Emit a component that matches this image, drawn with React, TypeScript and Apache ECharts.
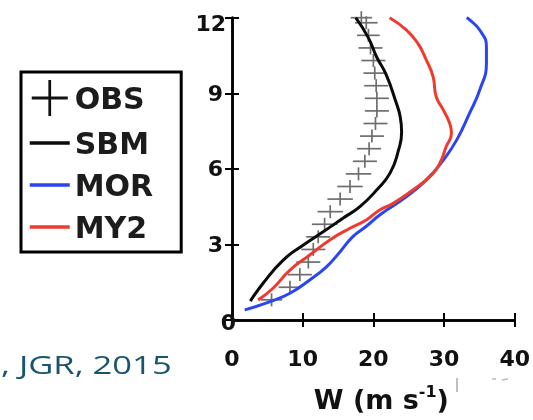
import React, { useEffect, useRef } from 'react';
import * as echarts from 'echarts';

// OBS: height (km), mean W (m/s), half-width of horizontal error bar (m/s)
const obsHeight = [0.8, 1.3, 1.8, 2.3, 2.8, 3.3, 3.8, 4.3, 4.8, 5.3, 5.8, 6.3, 6.8, 7.3, 7.8, 8.3, 8.8, 9.3, 9.8, 10.3, 10.8, 11.3, 11.8, 12.0];
const obsW = [5.6, 8.2, 9.6, 10.8, 11.5, 12.2, 13.1, 13.9, 15.3, 16.7, 17.9, 18.8, 19.4, 19.8, 20.3, 20.5, 20.5, 20.4, 20.2, 20.0, 19.6, 19.3, 19.0, 18.3];
const obsErr = [1.5, 1.6, 1.7, 1.7, 1.7, 1.7, 1.8, 1.8, 1.8, 1.8, 1.8, 1.7, 1.7, 1.7, 1.7, 1.7, 1.7, 1.7, 1.6, 1.7, 1.7, 1.6, 1.6, 1.5];

// SBM (black)
const sbmW = [2.6, 4.4, 7.25, 10.1, 12.9, 15.7, 18.1, 20.6, 22.4, 23.5, 24.0, 23.8, 23.2, 21.8, 20.45, 19.3, 17.5];
const sbmZ = [0.75, 1.46, 2.38, 2.98, 3.5, 4.04, 4.5, 5.2, 5.85, 6.68, 7.45, 8.07, 8.65, 9.75, 10.45, 11.2, 12.0];

// MOR (blue)
const morW = [1.8, 5.4, 8.2, 11.0, 13.4, 15.3, 17.1, 19.0, 20.9, 24.7, 27.5, 29.9, 31.8, 33.6, 35.05, 36.0, 36.0, 35.05, 33.6, 33.2];
const morZ = [0.4, 0.73, 1.06, 1.59, 2.12, 2.71, 3.31, 3.72, 4.17, 4.9, 5.56, 6.35, 7.15, 8.2, 9.13, 10.19, 10.85, 11.51, 11.92, 12.0];

// MY2 (red)
const my2W = [3.7, 5.8, 8.2, 11.0, 13.85, 16.7, 19.0, 20.9, 22.8, 25.6, 28.0, 29.4, 30.3, 31.05, 30.8, 29.9, 28.9, 28.45, 27.5, 26.3, 24.7, 22.3];
const my2Z = [0.79, 1.26, 1.98, 2.58, 3.18, 3.64, 3.97, 4.37, 4.63, 5.16, 5.69, 6.22, 6.88, 7.41, 7.81, 8.34, 8.86, 9.66, 10.32, 10.98, 11.51, 12.0];

const seriesNames = ['OBS', 'SBM', 'MOR', 'MY2'];
const xAxisTitle = 'W (m s{sup|-1})';
const sourceText = ', JGR, 2015';

const pair = (xs: number[], ys: number[]) => xs.map((x, i) => [x, ys[i]]);

export default function App() {
  const ref = useRef<HTMLDivElement>(null);
  useEffect(() => {
    const chart = echarts.init(ref.current!, null, { renderer: 'svg' });
    const tickFont = { fontFamily: 'DejaVu Sans', fontWeight: 'bold' as const, fontSize: 22, color: '#111' };
    const axisLine = { show: true, lineStyle: { color: '#000', width: 2.5 } };
    const axisTick = { show: true, inside: true, length: 7, lineStyle: { color: '#000', width: 2 } };
    const lineCommon = { type: 'line' as const, symbol: 'none', smooth: 0.5, xAxisIndex: 0, yAxisIndex: 0 };
    chart.setOption({
      animation: false,
      grid: { left: 232, right: 18, top: 17.7, bottom: 100, show: false },
      legend: {
        orient: 'vertical',
        left: 21,
        top: 72,
        itemWidth: 40,
        itemHeight: 36,
        itemGap: 12,
        padding: [8, 28, 10, 7],
        borderColor: '#000',
        borderWidth: 3,
        backgroundColor: '#fff',
        lineStyle: { width: 3.5 },
        textStyle: { fontFamily: 'DejaVu Sans', fontWeight: 'bold', fontSize: 30, color: '#1c1c1c' },
        data: [
          { name: seriesNames[0], icon: 'path://M0,45.5 H100 V54.5 H0 Z M46.2,0 H53.8 V100 H46.2 Z', itemStyle: { color: '#111' } },
          { name: seriesNames[1], itemStyle: { opacity: 0 } },
          { name: seriesNames[2], itemStyle: { opacity: 0 } },
          { name: seriesNames[3], itemStyle: { opacity: 0 } },
        ],
      },
      xAxis: [
        {
          type: 'value', min: 0, max: 40, interval: 10, position: 'bottom',
          splitLine: { show: false }, axisLine, axisTick,
          axisLabel: { ...tickFont, margin: 27 },
          name: xAxisTitle, nameLocation: 'middle', nameGap: 63,
          nameTextStyle: {
            fontFamily: 'DejaVu Sans', fontWeight: 'bold', fontSize: 27, color: '#111', lineHeight: 32,
            padding: [0, 0, 0, 16],
            rich: { sup: { fontFamily: 'DejaVu Sans', fontWeight: 'bold', fontSize: 16, lineHeight: 22, verticalAlign: 'top', color: '#111' } },
          },
        },
        {
          type: 'value', min: 0, max: 40, interval: 10, position: 'top',
          splitLine: { show: false }, axisLine, axisTick, axisLabel: { show: false },
        },
      ],
      yAxis: [
        {
          type: 'value', min: 0, max: 12, interval: 3, position: 'left',
          splitLine: { show: false }, axisLine, axisTick,
          axisLabel: {
            ...tickFont,
            margin: -4,
            formatter: (v: number) => (v === 0 ? '{z|0}' : v === 12 ? '{t|12}' : `{n|${v}}`),
            rich: {
              z: { ...tickFont, padding: [5, 0, 0, 0] },
              t: { ...tickFont, padding: [12, 10, 0, 0] },
              n: { ...tickFont, padding: [0, 13, 0, 0] },
            },
          },
        },
        {
          type: 'value', min: 0, max: 12, interval: 3, position: 'right',
          splitLine: { show: false }, axisLine, axisTick, axisLabel: { show: false },
        },
      ],
      series: [
        {
          name: seriesNames[0],
          type: 'custom',
          xAxisIndex: 0,
          yAxisIndex: 0,
          clip: false,
          itemStyle: { color: '#111' },
          encode: { x: 0, y: 1 },
          data: obsW.map((w, i) => [w, obsHeight[i], obsErr[i]]),
          renderItem: (params: any, api: any) => {
            const x = api.value(0);
            const y = api.value(1);
            const e = api.value(2);
            const c = api.coord([x, y]);
            const l = api.coord([x - e, y]);
            const r = api.coord([x + e, y]);
            const st = { stroke: '#6e6e6e', lineWidth: 1.7 };
            return {
              type: 'group',
              children: [
                { type: 'line', shape: { x1: l[0], y1: l[1], x2: r[0], y2: r[1] }, style: st },
                { type: 'line', shape: { x1: c[0], y1: c[1] - 6.5, x2: c[0], y2: c[1] + 6.5 }, style: st },
              ],
            };
          },
        },
        { ...lineCommon, name: seriesNames[1], data: pair(sbmW, sbmZ), color: '#0a0a0a', lineStyle: { color: '#0a0a0a', width: 3 } },
        { ...lineCommon, name: seriesNames[2], data: pair(morW, morZ), color: '#2b45f2', lineStyle: { color: '#2b45f2', width: 3 } },
        { ...lineCommon, name: seriesNames[3], data: pair(my2W, my2Z), color: '#ee3b2e', lineStyle: { color: '#ee3b2e', width: 3 } },
      ],
      graphic: [
        {
          type: 'text', x: 1, y: 351, scaleX: 1.33,
          style: { text: sourceText, fontFamily: 'Open Sans', fontSize: 26, fill: '#1a5570', verticalAlign: 'top' },
        },
        { type: 'line', shape: { x1: 457, y1: 378, x2: 457, y2: 392 }, style: { stroke: '#aaa', lineWidth: 1.5 } },
        { type: 'line', shape: { x1: 492, y1: 379, x2: 496, y2: 379 }, style: { stroke: '#bbb', lineWidth: 1.5 } },
        { type: 'line', shape: { x1: 502, y1: 380, x2: 508, y2: 379 }, style: { stroke: '#bbb', lineWidth: 1.5 } },
      ],
    });
    return () => chart.dispose();
  }, []);
  return <div ref={ref} style={{ position: 'fixed', left: 0, top: 0, width: 533, height: 420 }} />;
}
